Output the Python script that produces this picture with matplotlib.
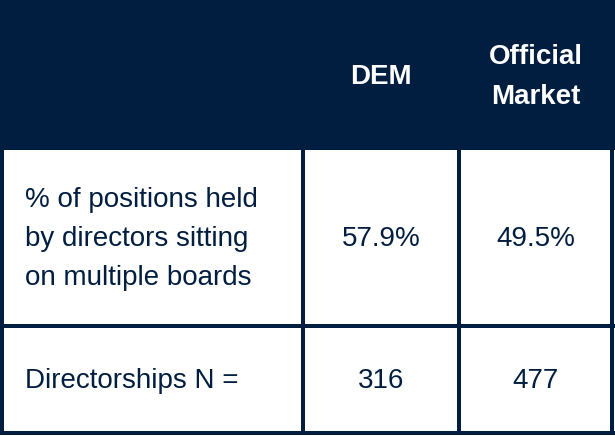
import matplotlib
matplotlib.use("Agg")
import matplotlib.pyplot as plt
from matplotlib.patches import Rectangle

columns = ["", "DEM", "Official\nMarket"]
row_labels = ["% of positions held\nby directors sitting\non multiple boards", "Directorships N ="]
dem_values = ["57.9%", "316"]
official_values = ["49.5%", "477"]

NAVY = "#011E41"
W, H = 615, 436
fig = plt.figure(figsize=(W / 100, H / 100), dpi=100)
ax = fig.add_axes([0, 0, 1, 1])
ax.set_xlim(0, W)
ax.set_ylim(H, 0)
ax.axis("off")

col_edges = [0, 303, 459, 612]
row_edges = [0, 150, 326, 433]

# header background
ax.add_patch(Rectangle((0, 0), W, row_edges[1], color=NAVY, lw=0))

# grid lines
lw_px = 4
for x in col_edges[1:]:
    ax.plot([x, x], [row_edges[1], row_edges[-1] + 2], color=NAVY, lw=lw_px * 0.72, solid_capstyle="butt")
ax.plot([2, 2], [row_edges[1], row_edges[-1] + 2], color=NAVY, lw=lw_px * 0.72, solid_capstyle="butt")
for y in row_edges[2:]:
    ax.plot([0, W], [y, y], color=NAVY, lw=lw_px * 0.72, solid_capstyle="butt")

font = "Liberation Sans"
fs = 20

# header
for i, c in enumerate(columns):
    if not c:
        continue
    cx = (col_edges[i] + col_edges[i + 1]) / 2
    ax.text(cx, 77.5, c, color="white", fontsize=fs, fontweight="bold", family=font,
            ha="center", va="center", linespacing=1.7)

# rows
for r, label in enumerate(row_labels):
    cy = (row_edges[r + 1] + row_edges[r + 2]) / 2
    ax.text(25, cy + 1, label, color=NAVY, fontsize=fs, family=font, ha="left", va="center", linespacing=1.66)
    for j, vals in enumerate([dem_values, official_values]):
        cx = (col_edges[j + 1] + col_edges[j + 2]) / 2
        ax.text(cx, cy + 1, vals[r], color=NAVY, fontsize=fs, family=font, ha="center", va="center")

fig.savefig("out.png", dpi=100)
